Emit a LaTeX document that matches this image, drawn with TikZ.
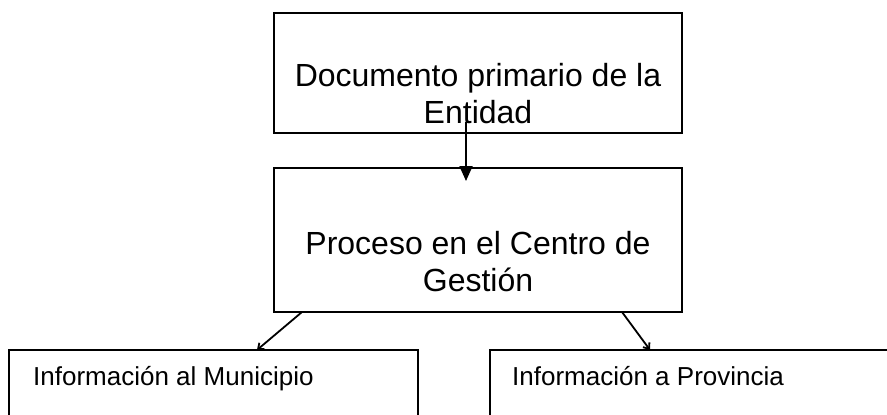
\documentclass[tikz,border=0pt]{standalone}
\usepackage{fontspec}
\setmainfont{Liberation Sans}
\usetikzlibrary{arrows.meta}
\begin{document}
\begin{tikzpicture}[x=1pt,y=-1pt,
  box/.style={draw,line width=1.8pt,inner sep=0pt,outer sep=0pt,rectangle},
  bigtext/.style={font=\fontsize{32}{37}\selectfont,inner sep=0pt,anchor=base},
  smalltext/.style={font=\fontsize{26}{30}\selectfont,inner sep=0pt,anchor=base west},
  conn/.style={line width=1.8pt,-{Stealth[length=15pt,width=13pt,inset=0pt]}},
  diag/.style={line width=1.8pt,-{Straight Barb[length=5pt,width=8pt]}}]
\useasboundingbox (0,0) rectangle (887,415);
\clip (0,0) rectangle (887,415);
% boxes
\node[box,minimum width=408pt,minimum height=120pt] (doc) at (478,73) {};
\node[box,minimum width=408pt,minimum height=144pt] (proc) at (478,240) {};
\node[box,minimum width=409pt,minimum height=80pt] (mun) at (213.5,390) {};
\node[box,minimum width=410pt,minimum height=80pt] (prov) at (695,390) {};
% texts
\node[bigtext] (doct1) at (478,86) {Documento primario de la};
\node[bigtext] (doct2) at (478,123) {Entidad};
\node[bigtext] (proct1) at (478,254) {Proceso en el Centro de};
\node[bigtext] (proct2) at (478,291) {Gestión};
\node[smalltext] (munt) at (33,385) {Información al Municipio};
\node[smalltext] (provt) at (512,385) {Información a Provincia};
% connectors
\coordinate (a1) at (466,122);
\coordinate (a2) at (466,181);
\coordinate (b1) at (302,312);
\coordinate (b2) at (257,350);
\coordinate (c1) at (622,312);
\coordinate (c2) at (650,350);
\draw[conn] (a1) -- (a2);
\draw[diag] (b1) -- (b2);
\draw[diag] (c1) -- (c2);
\end{tikzpicture}
\end{document}
